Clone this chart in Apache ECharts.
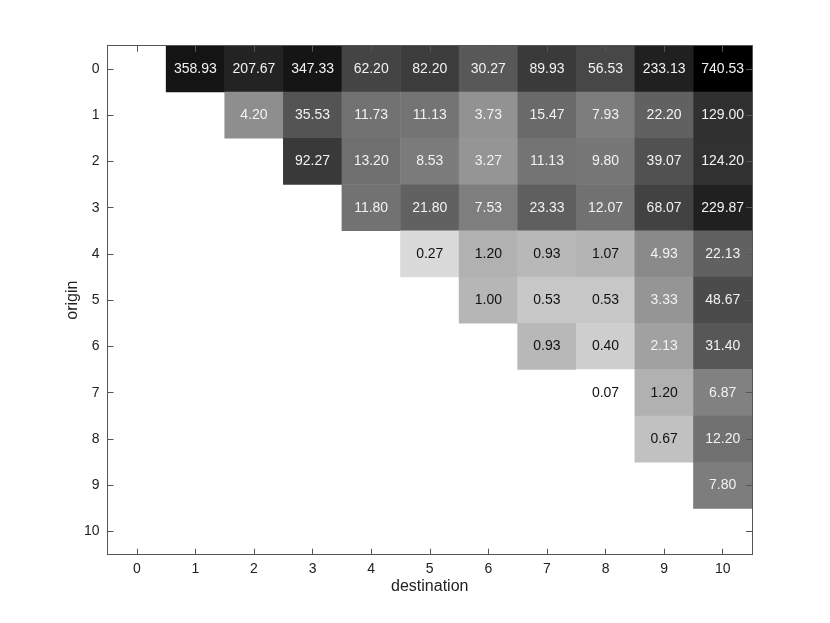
<!DOCTYPE html>
<html>
<head>
<meta charset="utf-8">
<script src="https://cdn.jsdelivr.net/npm/echarts@6/dist/echarts.min.js"></script>
<style>
html,body{margin:0;padding:0;background:#fff;}
#chart{width:830px;height:623px;}
</style>
</head>
<body>
<div id="chart"></div>
<script>
const destinations = ['0','1','2','3','4','5','6','7','8','9','10'];
const origins = ['0','1','2','3','4','5','6','7','8','9','10'];

const row0  = [null, 358.93, 207.67, 347.33, 62.20, 82.20, 30.27, 89.93, 56.53, 233.13, 740.53];
const row1  = [null, null, 4.20, 35.53, 11.73, 11.13, 3.73, 15.47, 7.93, 22.20, 129.00];
const row2  = [null, null, null, 92.27, 13.20, 8.53, 3.27, 11.13, 9.80, 39.07, 124.20];
const row3  = [null, null, null, null, 11.80, 21.80, 7.53, 23.33, 12.07, 68.07, 229.87];
const row4  = [null, null, null, null, null, 0.27, 1.20, 0.93, 1.07, 4.93, 22.13];
const row5  = [null, null, null, null, null, null, 1.00, 0.53, 0.53, 3.33, 48.67];
const row6  = [null, null, null, null, null, null, null, 0.93, 0.40, 2.13, 31.40];
const row7  = [null, null, null, null, null, null, null, null, 0.07, 1.20, 6.87];
const row8  = [null, null, null, null, null, null, null, null, null, 0.67, 12.20];
const row9  = [null, null, null, null, null, null, null, null, null, null, 7.80];
const row10 = [null, null, null, null, null, null, null, null, null, null, null];

const rows = [row0,row1,row2,row3,row4,row5,row6,row7,row8,row9,row10];

const data = [];
let vmin = Infinity, vmax = -Infinity;
rows.forEach((r, yi) => {
  r.forEach((v, xi) => {
    if (v === null) return;
    vmin = Math.min(vmin, v); vmax = Math.max(vmax, v);
    data.push({
      value: [xi, yi, v, Math.log10(v)],
      label: { color: v > 2 ? '#f2f2f2' : '#111' }
    });
  });
});

const FONT = '"Liberation Sans", Arial, sans-serif';
const axisLineStyle = { color: '#555', width: 1 };

const chart = echarts.init(document.getElementById('chart'));
chart.setOption({
  backgroundColor: '#fff',
  animation: false,
  grid: { left: 107.5, top: 45.7, width: 644.5, height: 509, containLabel: false },
  xAxis: [
    {
      type: 'category', data: destinations, position: 'bottom', z: 5,
      name: 'destination', nameLocation: 'middle', nameGap: 24, nameMoveOverlap: false,
      nameTextStyle: { fontFamily: FONT, fontSize: 16, color: '#222' },
      axisLine: { show: true, lineStyle: axisLineStyle },
      axisTick: { show: true, inside: true, alignWithLabel: true, length: 6, lineStyle: axisLineStyle },
      axisLabel: { fontFamily: FONT, fontSize: 14, color: '#222', margin: 7 },
      splitLine: { show: false }
    },
    {
      type: 'category', data: destinations, position: 'top', z: 5,
      axisLine: { show: true, lineStyle: axisLineStyle },
      axisTick: { show: true, inside: true, alignWithLabel: true, length: 6, lineStyle: axisLineStyle },
      axisLabel: { show: false },
      splitLine: { show: false }
    }
  ],
  yAxis: [
    {
      type: 'category', data: origins, inverse: true, position: 'left', z: 5,
      name: 'origin', nameLocation: 'middle', nameGap: 27, nameRotate: 90, nameMoveOverlap: false,
      nameTextStyle: { fontFamily: FONT, fontSize: 16, color: '#222' },
      axisLine: { show: true, lineStyle: axisLineStyle },
      axisTick: { show: true, inside: true, alignWithLabel: true, length: 6, lineStyle: axisLineStyle },
      axisLabel: { fontFamily: FONT, fontSize: 14, color: '#222', margin: 8 },
      splitLine: { show: false }
    },
    {
      type: 'category', data: origins, inverse: true, position: 'right', z: 5,
      axisLine: { show: true, lineStyle: axisLineStyle },
      axisTick: { show: true, inside: true, alignWithLabel: true, length: 6, lineStyle: axisLineStyle },
      axisLabel: { show: false },
      splitLine: { show: false }
    }
  ],
  visualMap: {
    show: false,
    type: 'continuous',
    dimension: 3,
    min: Math.log10(vmin),
    max: Math.log10(vmax),
    inRange: { color: ['#ffffff', '#000000'] }
  },
  series: [{
    type: 'heatmap',
    xAxisIndex: 0,
    yAxisIndex: 0,
    data: data,
    label: {
      show: true,
      fontFamily: FONT,
      fontSize: 14,
      formatter: p => p.value[2].toFixed(2)
    },
    itemStyle: { borderWidth: 0 },
    emphasis: { disabled: true }
  }]
});
</script>
</body>
</html>
